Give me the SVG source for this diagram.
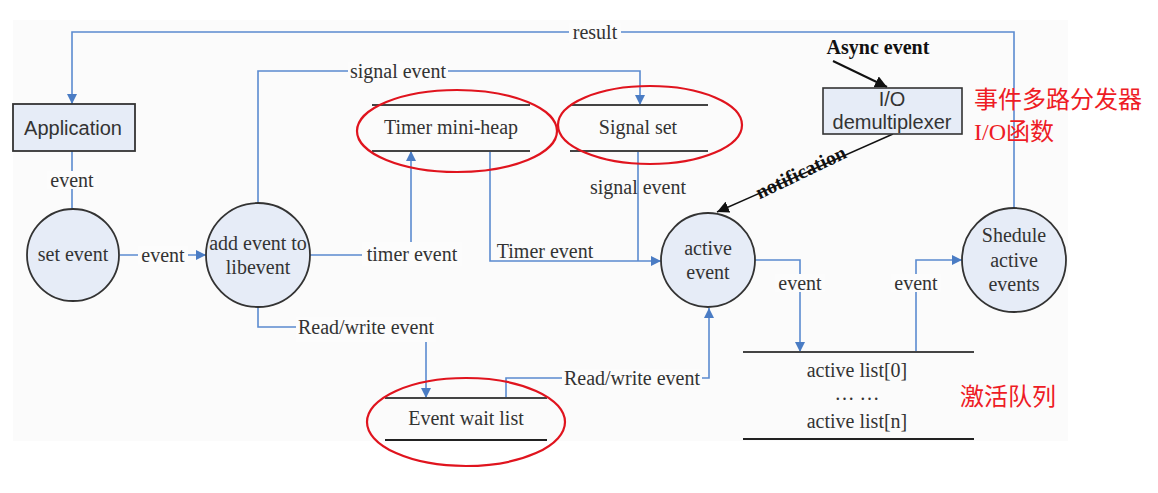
<svg xmlns="http://www.w3.org/2000/svg" width="1158" height="493" viewBox="0 0 1158 493">
<defs>
<marker id="ab" viewBox="0 0 10 10" refX="10" refY="5" markerWidth="10" markerHeight="10" markerUnits="userSpaceOnUse" orient="auto"><path d="M0,0 L10,5 L0,10 z" fill="#4a7cc4"/></marker>
<marker id="ak" viewBox="0 0 10 10" refX="10" refY="5" markerWidth="12" markerHeight="12" markerUnits="userSpaceOnUse" orient="auto"><path d="M0,0 L10,5 L0,10 z" fill="#111"/></marker>
<style>
.c{fill:none;stroke:#5b8bd0;stroke-width:1.6}
.n{fill:#e6ecf7;stroke:#333;stroke-width:1.8}
.t{font-family:"Liberation Serif",serif;font-size:20px;fill:#333;text-anchor:middle}
.s{font-family:"Liberation Sans",sans-serif;font-size:20px;fill:#333;text-anchor:middle}
.bar{stroke:#444;stroke-width:2}
.red{fill:none;stroke:#e0141e;stroke-width:2.2}
.zh{font-family:"Liberation Serif","Noto Sans CJK SC",serif;font-size:24px;fill:#ee1c25}
.lb{fill:#fcfcfc}
</style>
</defs>
<rect x="13" y="20" width="1055" height="421" fill="#fbfbfb"/>

<g id="connectors">
<path class="c" d="M1014,209 V32 H72 V104" marker-end="url(#ab)"/>
<path class="c" d="M72,151 V226" marker-end="url(#ab)"/>
<path class="c" d="M120,255 H206" marker-end="url(#ab)"/>
<path class="c" d="M258,203 V71 H640 V105" marker-end="url(#ab)"/>
<path class="c" d="M310,255 H411 V151" marker-end="url(#ab)"/>
<path class="c" d="M490,151 V261 H661" marker-end="url(#ab)"/>
<path class="c" d="M638,151 V261"/>
<path class="c" d="M755,260 H800 V352" marker-end="url(#ab)"/>
<path class="c" d="M916,352 V260 H962" marker-end="url(#ab)"/>
<path class="c" d="M258,307 V327 H426 V398" marker-end="url(#ab)"/>
<path class="c" d="M506,398 V378 H709 V308" marker-end="url(#ab)"/>
<path d="M833,61 L887,87" stroke="#111" stroke-width="2" marker-end="url(#ak)"/>
<path d="M893,134 L717,212" stroke="#111" stroke-width="1.4" marker-end="url(#ak)"/>
<rect class="lb" x="569" y="23" width="52" height="18"/>
<text class="t" x="595" y="39">result</text>
<rect class="lb" x="47" y="171" width="50" height="18"/>
<text class="t" x="72" y="187">event</text>
<rect class="lb" x="138" y="246" width="50" height="18"/>
<text class="t" x="163" y="262">event</text>
<rect class="lb" x="348" y="62" width="100" height="18"/>
<text class="t" x="398" y="78">signal event</text>
<rect class="lb" x="362" y="242" width="100" height="24"/>
<text class="t" x="412" y="261">timer event</text>
<text class="t" x="545" y="258">Timer event</text>
<text class="t" x="638" y="194">signal event</text>
<rect class="lb" x="775" y="274" width="50" height="18"/>
<text class="t" x="800" y="290">event</text>
<rect class="lb" x="891" y="274" width="50" height="18"/>
<text class="t" x="916" y="290">event</text>
<rect class="lb" x="296" y="317" width="140" height="25"/>
<text class="t" x="366" y="334">Read/write event</text>
<rect class="lb" x="562" y="369" width="140" height="18"/>
<text class="t" x="632" y="385">Read/write event</text>
<text class="t" x="878" y="54" style="font-weight:bold;fill:#111">Async event</text>
<text class="t" transform="translate(801,173) rotate(-25.6)" style="font-weight:bold;fill:#111;font-size:20px" y="6">notification</text>
</g>

<g id="application">
<rect class="n" x="13" y="104" width="122" height="47"/>
<text class="s" x="73" y="135">Application</text>
</g>
<g id="set-event">
<circle class="n" cx="73" cy="255" r="46"/>
<text class="t" x="73" y="261">set event</text>
</g>
<g id="add-event">
<circle class="n" cx="258" cy="255" r="52"/>
<text class="t" x="258" y="250">add event to</text>
<text class="t" x="258" y="274">libevent</text>
</g>
<g id="timer-heap">
<line class="bar" x1="372" y1="105" x2="530" y2="105"/>
<line class="bar" x1="372" y1="151" x2="530" y2="151"/>
<text class="t" x="451" y="134">Timer mini-heap</text>
<ellipse class="red" cx="457" cy="131" rx="100" ry="41"/>
</g>
<g id="signal-set">
<line class="bar" x1="570" y1="105" x2="708" y2="105"/>
<line class="bar" x1="570" y1="151" x2="708" y2="151"/>
<text class="t" x="638" y="134">Signal set</text>
<ellipse class="red" cx="650" cy="125" rx="92" ry="39"/>
</g>
<g id="io-demux">
<rect class="n" x="823" y="88" width="139" height="46" style="stroke-width:1.6"/>
<text class="s" x="892" y="106">I/O</text>
<text class="s" x="892" y="129">demultiplexer</text>
<text class="zh" x="974" y="108">事件多路分发器</text>
<text class="zh" x="974" y="140">I/O函数</text>
</g>
<g id="active-event">
<circle class="n" cx="708" cy="260" r="47"/>
<text class="t" x="708" y="255">active</text>
<text class="t" x="708" y="279">event</text>
</g>
<g id="schedule">
<circle class="n" cx="1014" cy="260" r="52"/>
<text class="t" x="1014" y="242">Shedule</text>
<text class="t" x="1014" y="267">active</text>
<text class="t" x="1014" y="291">events</text>
</g>
<g id="active-list">
<line class="bar" x1="743" y1="352" x2="974" y2="352"/>
<line class="bar" x1="743" y1="439" x2="974" y2="439" style="stroke:#222"/>
<text class="t" x="857" y="377">active list[0]</text>
<text class="t" x="857" y="400">… …</text>
<text class="t" x="857" y="428">active list[n]</text>
<text class="zh" x="960" y="405">激活队列</text>
</g>
<g id="wait-list">
<line class="bar" x1="385" y1="398" x2="547" y2="398"/>
<line class="bar" x1="385" y1="440" x2="547" y2="440" style="stroke:#222"/>
<text class="t" x="466" y="425">Event wait list</text>
<ellipse class="red" cx="466" cy="422" rx="99" ry="44"/>
</g>
</svg>
